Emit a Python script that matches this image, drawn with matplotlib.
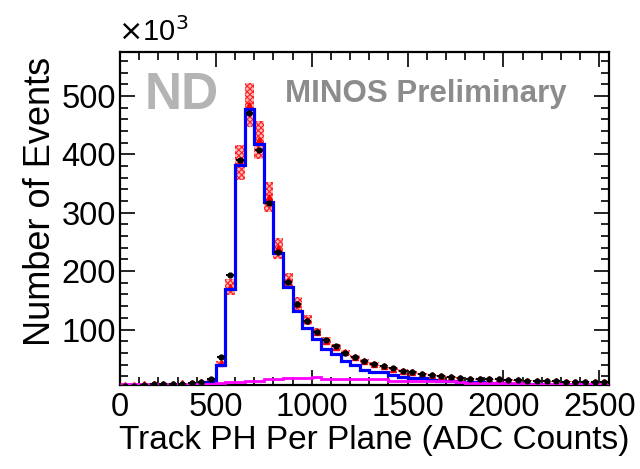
import matplotlib
matplotlib.use('Agg')
import matplotlib.pyplot as plt
import numpy as np
from matplotlib.ticker import MultipleLocator

plt.rcParams['font.family'] = ['Liberation Sans', 'DejaVu Sans']
plt.rcParams['hatch.linewidth'] = 0.8

# bins of 50 ADC counts from 0 to 2550, values in units of 10^3 events
bin_width = 50
edges = np.arange(0, 2551, bin_width)
centers = edges[:-1] + bin_width / 2

# blue: main MC component
mc_blue = [1.0, 1.0, 1.5, 1.5, 2.0, 2.0, 2.5, 3.0, 4.0, 10,
           40, 170, 381, 478, 417, 318, 231, 172, 132, 102,
           83, 67, 59, 47, 39, 31, 28, 26.5, 22, 19,
           17.5, 16.5, 14, 12.5, 12, 11, 10.5, 10.5, 8.5, 8,
           7.5, 7.5, 7, 6, 5.5, 5, 4.5, 4, 3.5, 3.5, 3]

# magenta: background component
mc_magenta = [6, 6, 6, 6, 6, 6, 6, 6, 6, 6.5,
              8, 10.5, 11, 12.5, 12.5, 15, 15, 16.5, 16.5, 16.5,
              19, 16, 16, 15.5, 15.5, 15.5, 15, 15, 12.5, 12.5,
              12, 12, 12, 11.5, 11.5, 11, 9, 9, 8.5, 8.5,
              8, 8, 7.5, 7, 7, 6.5, 6.5, 6, 6, 6, 5.5]

# red: total MC with systematic band
mc_total = [5, 5, 6, 6.5, 7, 7.5, 8, 8.5, 10, 13,
            43, 173, 386, 484, 424, 327, 239, 183, 144, 116,
            96, 81, 70, 61, 53, 46, 41, 37, 33, 29.5,
            26.5, 24, 21.5, 20, 19, 17.5, 16, 15.5, 14.5, 14.5,
            13.5, 13, 12.5, 12, 11.5, 11.5, 10.8, 10.3, 10.3, 9.7, 10.3]
syst_frac = 0.077

# black: data
data = [3, 4, 5.5, 6, 6.5, 7, 7.5, 8, 9.5, 15,
        53.5, 193, 391, 470, 408, 316, 233, 182, 143.5, 115,
        96, 82, 71, 60.3, 53.5, 47, 41, 37.6, 33.7, 29.6,
        26.8, 23.9, 21.7, 20.5, 19.3, 17.6, 15.9, 15.4, 14.9, 14.9,
        13.7, 13.2, 12.5, 12, 11.5, 11.5, 10.8, 10.3, 10.3, 9.7, 10.3]

mc_blue = np.array(mc_blue)
mc_magenta = np.array(mc_magenta)
mc_total = np.array(mc_total)
data = np.array(data)

fig = plt.figure(figsize=(6.4, 4.69), dpi=100)
ax = fig.add_axes([0.1875, 0.179, 0.764, 0.710])

# --- systematic band ---
err = mc_total * syst_frac
ax.bar(centers, 2 * err, bottom=mc_total - err, width=bin_width,
       facecolor=(1.0, 0.72, 0.72), edgecolor='#ff2020', hatch='xxxxxx',
       linewidth=0, zorder=1)
ax.plot(centers, mc_total, ls='none', marker='^', ms=4, color='red', zorder=2)

# --- MC components ---
ax.stairs(mc_blue, edges, baseline=None, color='#0000ff', lw=2.3, zorder=3)
ax.stairs(mc_magenta, edges, baseline=None, color='#ff00ff', lw=2.0, zorder=3)

# --- data ---
ax.errorbar(centers, data, xerr=bin_width / 2 * 0.8, fmt='o', ms=3.5,
            color='black', elinewidth=1.5, capsize=0, zorder=4)

ax.set_xlim(0, 2550)
ax.set_ylim(5, 575)

ax.xaxis.set_major_locator(MultipleLocator(500))
ax.xaxis.set_minor_locator(MultipleLocator(100))
ax.yaxis.set_minor_locator(MultipleLocator(20))
ax.set_yticks([100, 200, 300, 400, 500])

ax.tick_params(which='both', direction='in', top=True, right=True, width=1.2)
ax.tick_params(which='major', length=11)
ax.tick_params(which='minor', length=6)
ax.tick_params(axis='x', labelsize=23.5, pad=5)
ax.tick_params(axis='y', labelsize=23.5, pad=3)
for s in ax.spines.values():
    s.set_linewidth(1.6)

ax.set_xlabel('Track PH Per Plane (ADC Counts)', fontsize=24)
ax.xaxis.set_label_coords(0.52, -0.12, transform=ax.transAxes)
ax.set_ylabel('Number of Events', fontsize=26)
ax.yaxis.set_label_coords(-0.126, 0.55, transform=ax.transAxes)

fig.text(118 / 640, 1 - 32 / 469, r'$\times$10$^{3}$', fontsize=21,
         ha='left', va='center')

ax.text(0.05, 0.87, 'ND', transform=ax.transAxes, fontsize=37,
        fontweight='bold', color='#b4b4b4', ha='left', va='center')
ax.text(0.337, 0.874, 'MINOS Preliminary', transform=ax.transAxes,
        fontsize=22.5, fontweight='bold', color='#8c8c8c', ha='left', va='center')

fig.savefig('out.png', dpi=100)
